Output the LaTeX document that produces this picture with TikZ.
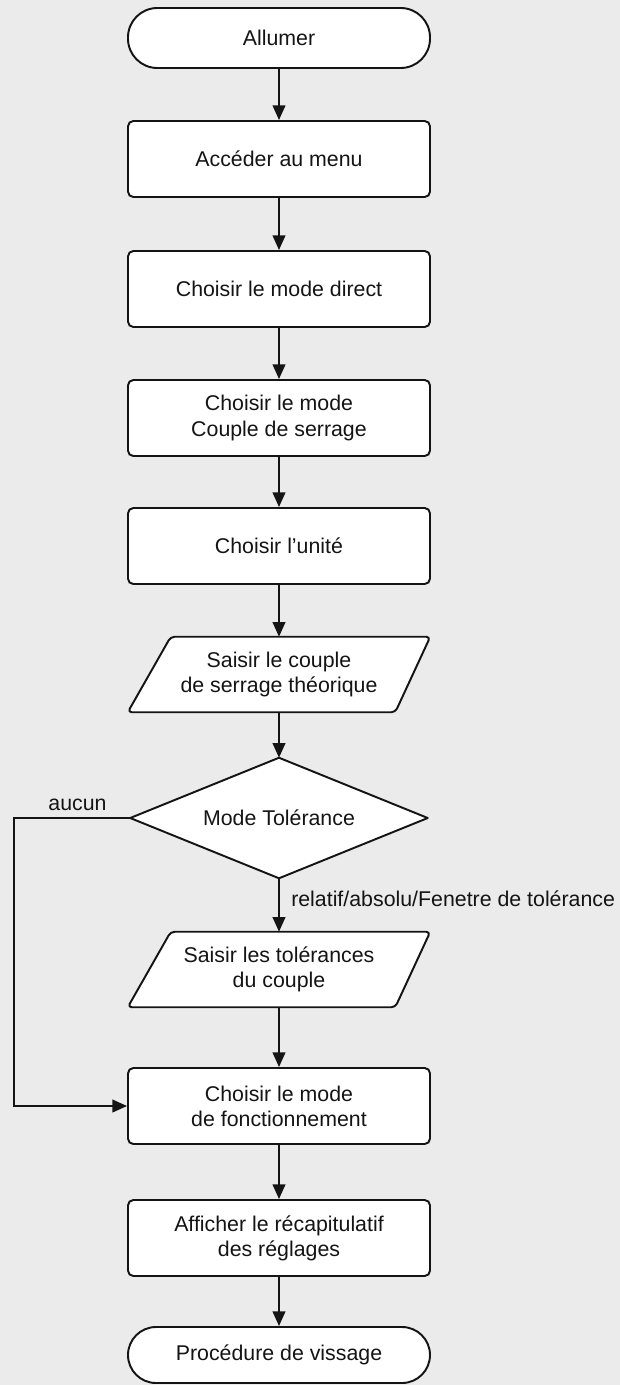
\documentclass[tikz,border=0pt]{standalone}
\usepackage{fontspec}
\setmainfont{Liberation Sans}
\usetikzlibrary{arrows.meta,calc}
\definecolor{bgc}{RGB}{235,235,236}
\definecolor{ink}{RGB}{20,20,20}
\pgfdeclarelayer{bg}
\pgfsetlayers{bg,main}
\begin{document}
\begin{tikzpicture}[x=0.75pt,y=-0.75pt,
  txt/.style={font=\fontsize{16}{18.8}\selectfont, text=ink, align=center},
  box/.style={txt, draw=ink, fill=white, line width=1.45pt, rounded corners=4pt, minimum width=226.5pt, minimum height=57pt, inner sep=0pt},
  term/.style={box, rounded corners=22pt, minimum height=45pt},
  holder/.style={txt, minimum width=226.5pt, minimum height=56.25pt, inner sep=0pt},
  shapeline/.style={draw=ink, fill=white, line width=1.45pt, line join=round, rounded corners=3pt},
  flow/.style={draw=ink, line width=1.45pt, -{Triangle[length=11pt,width=9.5pt]}},
  lbl/.style={font=\fontsize{16}{18.8}\selectfont, text=ink, inner sep=0pt}
]
\begin{pgfonlayer}{bg}
  \fill[bgc] (0,0) rectangle (620,1385);
\end{pgfonlayer}
\useasboundingbox (0,0) rectangle (620,1385);

\node[term] (start) at (279,38) {Allumer};
\node[box] (b1) at (279,159) {Accéder au menu};
\node[box] (b2) at (279,289) {Choisir le mode direct};
\node[box] (b3) at (279,418) {Choisir le mode\\Couple de serrage};
\node[box] (b4) at (279,546) {Choisir l’unité};
\node[holder] (p1) at (279,674.5) {Saisir le couple\\de serrage théorique};
\node[txt, minimum width=222.75pt, minimum height=90pt, inner sep=0pt] (dia) at (279,818) {Mode Tolérance};
\node[holder] (p2) at (279,969.5) {Saisir les tolérances\\du couple};
\node[box] (b5) at (279,1106) {Choisir le mode\\de fonctionnement};
\node[box] (b6) at (279,1238) {Afficher le récapitulatif\\des réglages};
\node[term, minimum height=42pt, rounded corners=21pt] (stop) at (279,1355) {Procédure de vissage};

\begin{pgfonlayer}{bg}
  \draw[shapeline] (p1.south west) -- ($(p1.north west)+(43,0)$) -- (p1.north east) -- ($(p1.south east)+(-35,0)$) -- cycle;
  \draw[shapeline] (p2.south west) -- ($(p2.north west)+(43,0)$) -- (p2.north east) -- ($(p2.south east)+(-35,0)$) -- cycle;
  \draw[draw=ink, fill=white, line width=1.45pt, line join=round] (dia.west) -- (dia.north) -- (dia.east) -- (dia.south) -- cycle;
\end{pgfonlayer}

\node[lbl, anchor=center] (aucun) at (77.5,805) {aucun};
\node[lbl, anchor=west] (rel) at (291,899) {relatif/absolu/Fenetre de tolérance};
\coordinate (lp) at (14,818);

\draw[flow] (start) -- (b1);
\draw[flow] (b1) -- (b2);
\draw[flow] (b2) -- (b3);
\draw[flow] (b3) -- (b4);
\draw[flow] (b4) -- (p1);
\draw[flow] (p1) -- (dia.north);
\draw[flow] (dia.south) -- (p2);
\draw[flow] (p2) -- (b5);
\draw[flow] (b5) -- (b6);
\draw[flow] (b6) -- (stop);
\draw[flow] (dia.west) -- (lp) |- (b5.west);
\end{tikzpicture}
\end{document}
